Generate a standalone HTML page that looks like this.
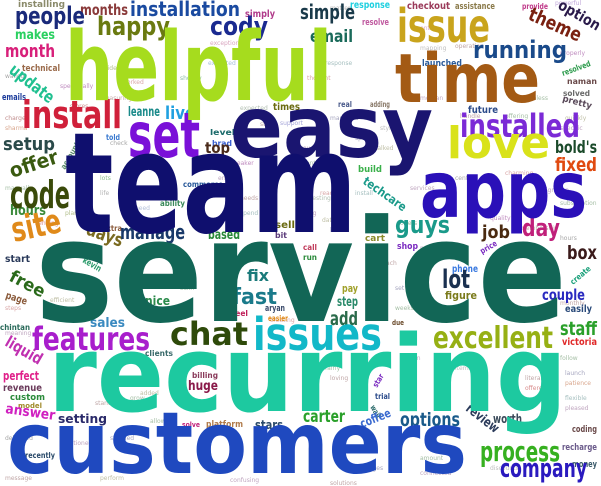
<!DOCTYPE html>
<html><head><meta charset="utf-8"><style>
html,body{margin:0;padding:0;background:#fff;}
svg{display:block;}
text{font-family:"DejaVu Sans","Liberation Sans",sans-serif;font-weight:bold;}
g.tiny text{font-weight:normal;}
</style></head><body>
<svg width="601" height="486" viewBox="0 0 601 486">
<g class="tiny" font-size="6" opacity="0.75">
<text x="5" y="78" fill="#888">walled</text><text x="60" y="88" fill="#a6a">specifically</text><text x="100" y="70" fill="#9a6">guide</text><text x="122" y="84" fill="#c88">worked</text><text x="210" y="45" fill="#c8a">exceptional</text><text x="208" y="65" fill="#8ac">expected</text><text x="180" y="80" fill="#6a8">shopify</text><text x="100" y="100" fill="#a88">measuring</text><text x="70" y="108" fill="#b66">stores</text><text x="240" y="110" fill="#9a9">expected</text><text x="260" y="126" fill="#a88">store</text><text x="280" y="125" fill="#88c">support</text><text x="5" y="120" fill="#a66">charge</text><text x="5" y="130" fill="#c86">sharma</text><text x="110" y="145" fill="#888">check</text><text x="135" y="160" fill="#8a8">saving</text><text x="230" y="165" fill="#a6a">speaker</text><text x="218" y="180" fill="#a8a">enjoy</text><text x="100" y="180" fill="#6a6">lots</text><text x="100" y="195" fill="#999">life</text><text x="135" y="210" fill="#9ac">need</text><text x="240" y="200" fill="#a88">needs</text><text x="240" y="215" fill="#8aa">spend</text><text x="5" y="190" fill="#8a8">manually</text><text x="35" y="225" fill="#c66">sending</text><text x="65" y="215" fill="#9a6">plans</text><text x="330" y="120" fill="#88a">managed</text><text x="300" y="150" fill="#a8a">saved</text><text x="300" y="165" fill="#8a8">month</text><text x="300" y="180" fill="#a86">thing</text><text x="310" y="200" fill="#9a9">testing</text><text x="300" y="215" fill="#a8a">fixing</text><text x="322" y="222" fill="#aa8">date</text><text x="330" y="232" fill="#88a">hear</text><text x="320" y="195" fill="#c88">ready</text><text x="355" y="195" fill="#8aa">install</text><text x="410" y="190" fill="#a8a">services</text><text x="400" y="225" fill="#8a8">offers</text><text x="455" y="180" fill="#888">cent</text><text x="505" y="175" fill="#c88">charming</text><text x="540" y="192" fill="#a8a">migration</text><text x="560" y="205" fill="#8a8">subscription</text><text x="520" y="230" fill="#a88">membership</text><text x="560" y="240" fill="#888">hours</text><text x="490" y="220" fill="#a6a">quality</text><text x="380" y="130" fill="#aaa">style</text><text x="355" y="140" fill="#88a">spent</text><text x="375" y="150" fill="#aa8">talked</text><text x="420" y="100" fill="#a8a">morgan</text><text x="460" y="118" fill="#a88">handle</text><text x="505" y="118" fill="#8a8">offering</text><text x="565" y="120" fill="#aa8">quickly</text><text x="560" y="130" fill="#a8a">specific</text><text x="420" y="50" fill="#aaa">mapping</text><text x="455" y="48" fill="#a88">operation</text><text x="420" y="30" fill="#c8a">entire</text><text x="560" y="55" fill="#a6a">properly</text><text x="555" y="5" fill="#a8c">powerful</text><text x="325" y="65" fill="#8aa">response</text><text x="307" y="80" fill="#c88">thought</text><text x="330" y="10" fill="#999">matter</text><text x="520" y="100" fill="#8a8">seamless</text><text x="380" y="265" fill="#a88">reach</text><text x="395" y="290" fill="#88a">set</text><text x="395" y="310" fill="#8a8">weeks</text><text x="420" y="250" fill="#a8a">paid</text><text x="520" y="280" fill="#aa8">brands</text><text x="560" y="305" fill="#a88">monthly</text><text x="560" y="360" fill="#8a8">follow</text><text x="565" y="375" fill="#88a">launch</text><text x="565" y="385" fill="#c86">patience</text><text x="565" y="400" fill="#8aa">flexible</text><text x="565" y="410" fill="#a8a">pleased</text><text x="455" y="370" fill="#aaa">items</text><text x="525" y="380" fill="#a88">literally</text><text x="525" y="390" fill="#c66">offered</text><text x="330" y="380" fill="#a88">loving</text><text x="325" y="370" fill="#8a8">fairly</text><text x="400" y="360" fill="#a8a">person</text><text x="490" y="470" fill="#aaa">discounts</text><text x="420" y="475" fill="#a8a">connected</text><text x="330" y="485" fill="#a88">solutions</text><text x="420" y="460" fill="#8a8">amount</text><text x="350" y="450" fill="#aa8">wanted</text><text x="365" y="470" fill="#88a">pages</text><text x="5" y="440" fill="#888">delivered</text><text x="60" y="445" fill="#a8a">mentioned</text><text x="110" y="440" fill="#88a">stitched</text><text x="5" y="480" fill="#a88">message</text><text x="100" y="480" fill="#aa8">perform</text><text x="230" y="482" fill="#a8a">confusing</text><text x="140" y="395" fill="#aa8">added</text><text x="95" y="405" fill="#a88">standard</text><text x="130" y="400" fill="#8a8">grow</text><text x="150" y="423" fill="#8a8">allowed</text><text x="5" y="310" fill="#c88">steps</text><text x="50" y="302" fill="#aa8">efficient</text><text x="150" y="258" fill="#a88">reason</text><text x="180" y="290" fill="#8a8">sukh</text><text x="270" y="322" fill="#c88">creating</text><text x="5" y="335" fill="#a8a">meaning</text></g>

<g>
<text x="18" y="7" font-size="9" fill="#8a8a6a" textLength="47" lengthAdjust="spacingAndGlyphs">installing</text>
<text x="80" y="15" font-size="15" fill="#8a3a3a" textLength="48" lengthAdjust="spacingAndGlyphs">months</text>
<text x="15" y="24" font-size="24" fill="#1a2a7a" textLength="70" lengthAdjust="spacingAndGlyphs">people</text>
<text x="130" y="16" font-size="20" fill="#1a4aa0" textLength="110" lengthAdjust="spacingAndGlyphs">installation</text>
<text x="245" y="17" font-size="10" fill="#b03a8a" textLength="30" lengthAdjust="spacingAndGlyphs">simply</text>
<text x="97" y="35" font-size="26" fill="#6a7a10" textLength="73" lengthAdjust="spacingAndGlyphs">happy</text>
<text x="210" y="35" font-size="26" fill="#1a2a90" textLength="58" lengthAdjust="spacingAndGlyphs">cody</text>
<text x="15" y="39" font-size="13" fill="#2ad060" textLength="40" lengthAdjust="spacingAndGlyphs">makes</text>
<text x="5" y="57" font-size="18" fill="#d8207a" textLength="50" lengthAdjust="spacingAndGlyphs">month</text>
<text x="22" y="71" font-size="9" fill="#9a6a4a" textLength="38" lengthAdjust="spacingAndGlyphs">technical</text>
<text transform="translate(8,72) rotate(38)" font-size="17" fill="#20c090" textLength="52" lengthAdjust="spacingAndGlyphs">update</text>
<text x="2" y="100" font-size="9" fill="#1a3a9a" textLength="24" lengthAdjust="spacingAndGlyphs">emails</text>
<text x="128" y="116" font-size="13" fill="#1a8a8a" textLength="32" lengthAdjust="spacingAndGlyphs">leanne</text>
<text x="165" y="119" font-size="18" fill="#20a0e0" textLength="30" lengthAdjust="spacingAndGlyphs">live</text>
<text x="273" y="110" font-size="10" fill="#6a6a10" textLength="27" lengthAdjust="spacingAndGlyphs">times</text>
<text x="210" y="135" font-size="8" fill="#1a6a6a" textLength="25" lengthAdjust="spacingAndGlyphs">level</text>
<text x="212" y="146" font-size="8" fill="#3a60d0" textLength="20" lengthAdjust="spacingAndGlyphs">brad</text>
<text x="106" y="140" font-size="8" fill="#3a7ad0" textLength="14" lengthAdjust="spacingAndGlyphs">told</text>
<text x="205" y="153" font-size="15" fill="#4a2a1a" textLength="25" lengthAdjust="spacingAndGlyphs">top</text>
<text x="3" y="150" font-size="18" fill="#2a4a4a" textLength="52" lengthAdjust="spacingAndGlyphs">setup</text>
<text transform="translate(12,178) rotate(-18)" font-size="20" fill="#3a5a10" textLength="50" lengthAdjust="spacingAndGlyphs">offer</text>
<text transform="translate(65,170) rotate(-60)" font-size="8" fill="#5a8a6a" textLength="30" lengthAdjust="spacingAndGlyphs">account</text>
<text x="183" y="187" font-size="8" fill="#2a5a9a" textLength="40" lengthAdjust="spacingAndGlyphs">commerce</text>
<text x="160" y="206" font-size="8" fill="#3a8a5a" textLength="25" lengthAdjust="spacingAndGlyphs">ability</text>
<text x="10" y="215" font-size="14" fill="#3a8a3a" textLength="36" lengthAdjust="spacingAndGlyphs">hours</text>
<text x="102" y="231" font-size="8" fill="#8a5a3a" textLength="20" lengthAdjust="spacingAndGlyphs">extra</text>
<text transform="translate(85,234) rotate(20)" font-size="18" fill="#7a6a20" textLength="38" lengthAdjust="spacingAndGlyphs">days</text>
<text x="120" y="239" font-size="20" fill="#1a3a6a" textLength="65" lengthAdjust="spacingAndGlyphs">manage</text>
<text x="208" y="239" font-size="13" fill="#2a8a3a" textLength="32" lengthAdjust="spacingAndGlyphs">based</text>
<text x="275" y="238" font-size="8" fill="#5a3a7a" textLength="12" lengthAdjust="spacingAndGlyphs">bit</text>
<text x="275" y="228" font-size="10" fill="#6a6a10" textLength="20" lengthAdjust="spacingAndGlyphs">sell</text>
<text x="350" y="8" font-size="10" fill="#20d0e0" textLength="40" lengthAdjust="spacingAndGlyphs">response</text>
<text x="300" y="19" font-size="20" fill="#1a3a4a" textLength="55" lengthAdjust="spacingAndGlyphs">simple</text>
<text x="407" y="9" font-size="10" fill="#9a3a5a" textLength="43" lengthAdjust="spacingAndGlyphs">checkout</text>
<text x="455" y="9" font-size="9" fill="#8a7a4a" textLength="40" lengthAdjust="spacingAndGlyphs">assistance</text>
<text x="522" y="9" font-size="8" fill="#c03a8a" textLength="26" lengthAdjust="spacingAndGlyphs">provide</text>
<text x="362" y="25" font-size="9" fill="#c05aa0" textLength="27" lengthAdjust="spacingAndGlyphs">resolve</text>
<text x="310" y="42" font-size="17" fill="#1a6a5a" textLength="43" lengthAdjust="spacingAndGlyphs">email</text>
<text transform="translate(527,19) rotate(24)" font-size="19" fill="#7a2010" textLength="56" lengthAdjust="spacingAndGlyphs">theme</text>
<text transform="translate(557,8) rotate(30)" font-size="15" fill="#2a1a4a" textLength="46" lengthAdjust="spacingAndGlyphs">option</text>
<text x="473" y="58" font-size="24" fill="#1a4a8a" textLength="94" lengthAdjust="spacingAndGlyphs">running</text>
<text x="422" y="66" font-size="9" fill="#2a5a9a" textLength="40" lengthAdjust="spacingAndGlyphs">launched</text>
<text transform="translate(563,76) rotate(-20)" font-size="8" fill="#2a9a4a" textLength="30" lengthAdjust="spacingAndGlyphs">resolved</text>
<text x="567" y="84" font-size="8" fill="#6a4a4a" textLength="30" lengthAdjust="spacingAndGlyphs">naman</text>
<text x="563" y="96" font-size="8" fill="#6a6a6a" textLength="27" lengthAdjust="spacingAndGlyphs">solved</text>
<text transform="translate(562,101) rotate(15)" font-size="9" fill="#5a4a5a" textLength="30" lengthAdjust="spacingAndGlyphs">pretty</text>
<text x="338" y="107" font-size="8" fill="#4a5a8a" textLength="14" lengthAdjust="spacingAndGlyphs">real</text>
<text x="370" y="107" font-size="8" fill="#8a7a6a" textLength="20" lengthAdjust="spacingAndGlyphs">adding</text>
<text x="468" y="113" font-size="10" fill="#2a4a8a" textLength="30" lengthAdjust="spacingAndGlyphs">future</text>
<text x="555" y="153" font-size="17" fill="#1a4a2a" textLength="42" lengthAdjust="spacingAndGlyphs">bold's</text>
<text x="555" y="171" font-size="19" fill="#e04a10" textLength="42" lengthAdjust="spacingAndGlyphs">fixed</text>
<text x="358" y="172" font-size="9" fill="#3ab04a" textLength="24" lengthAdjust="spacingAndGlyphs">build</text>
<text transform="translate(362,183) rotate(35)" font-size="12" fill="#1a9a8a" textLength="50" lengthAdjust="spacingAndGlyphs">techcare</text>
<text x="395" y="233" font-size="24" fill="#1a9a8a" textLength="55" lengthAdjust="spacingAndGlyphs">guys</text>
<text x="365" y="241" font-size="9" fill="#8a8a2a" textLength="20" lengthAdjust="spacingAndGlyphs">cart</text>
<text x="482" y="238" font-size="18" fill="#4a2a10" textLength="28" lengthAdjust="spacingAndGlyphs">job</text>
<text x="522" y="236" font-size="24" fill="#c0207a" textLength="38" lengthAdjust="spacingAndGlyphs">day</text>
<text x="5" y="262" font-size="10" fill="#2a3a5a" textLength="25" lengthAdjust="spacingAndGlyphs">start</text>
<text transform="translate(82,262) rotate(30)" font-size="9" fill="#2a9a6a" textLength="20" lengthAdjust="spacingAndGlyphs">kevin</text>
<text transform="translate(8,280) rotate(28)" font-size="17" fill="#2a6a1a" textLength="38" lengthAdjust="spacingAndGlyphs">free</text>
<text transform="translate(5,298) rotate(18)" font-size="10" fill="#8a5a3a" textLength="22" lengthAdjust="spacingAndGlyphs">page</text>
<text x="0" y="330" font-size="8" fill="#2a6a5a" textLength="30" lengthAdjust="spacingAndGlyphs">chintan</text>
<text x="247" y="281" font-size="16" fill="#1a7a7a" textLength="22" lengthAdjust="spacingAndGlyphs">fix</text>
<text x="232" y="304" font-size="22" fill="#1a7a8a" textLength="45" lengthAdjust="spacingAndGlyphs">fast</text>
<text x="145" y="305" font-size="12" fill="#2a8a4a" textLength="25" lengthAdjust="spacingAndGlyphs">nice</text>
<text x="265" y="311" font-size="9" fill="#3a4a6a" textLength="20" lengthAdjust="spacingAndGlyphs">aryan</text>
<text x="232" y="316" font-size="8" fill="#c0205a" textLength="16" lengthAdjust="spacingAndGlyphs">feel</text>
<text x="268" y="321" font-size="8" fill="#e08a1a" textLength="20" lengthAdjust="spacingAndGlyphs">easier</text>
<text x="90" y="327" font-size="13" fill="#3a8ac0" textLength="35" lengthAdjust="spacingAndGlyphs">sales</text>
<text transform="translate(4,345) rotate(30)" font-size="16" fill="#c030b0" textLength="40" lengthAdjust="spacingAndGlyphs">liquid</text>
<text x="3" y="380" font-size="12" fill="#e0208a" textLength="36" lengthAdjust="spacingAndGlyphs">perfect</text>
<text x="3" y="391" font-size="10" fill="#6a3a5a" textLength="39" lengthAdjust="spacingAndGlyphs">revenue</text>
<text x="10" y="400" font-size="9" fill="#2a8a3a" textLength="35" lengthAdjust="spacingAndGlyphs">custom</text>
<text x="18" y="408" font-size="7" fill="#a08a2a" textLength="24" lengthAdjust="spacingAndGlyphs">model</text>
<text transform="translate(5,413) rotate(8)" font-size="14" fill="#d020c0" textLength="50" lengthAdjust="spacingAndGlyphs">answer</text>
<text x="58" y="423" font-size="12" fill="#2a2a6a" textLength="49" lengthAdjust="spacingAndGlyphs">setting</text>
<text x="145" y="356" font-size="8" fill="#3a6a6a" textLength="28" lengthAdjust="spacingAndGlyphs">clients</text>
<text x="192" y="378" font-size="8" fill="#8a3a5a" textLength="26" lengthAdjust="spacingAndGlyphs">billing</text>
<text x="188" y="390" font-size="13" fill="#8a1a4a" textLength="30" lengthAdjust="spacingAndGlyphs">huge</text>
<text x="182" y="427" font-size="7" fill="#c0207a" textLength="18" lengthAdjust="spacingAndGlyphs">solve</text>
<text x="206" y="427" font-size="9" fill="#b07a4a" textLength="37" lengthAdjust="spacingAndGlyphs">platform</text>
<text x="255" y="429" font-size="12" fill="#2a4a6a" textLength="28" lengthAdjust="spacingAndGlyphs">stars</text>
<text x="25" y="458" font-size="8" fill="#2a4a6a" textLength="30" lengthAdjust="spacingAndGlyphs">recently</text>
<text x="303" y="250" font-size="8" fill="#c03a5a" textLength="14" lengthAdjust="spacingAndGlyphs">call</text>
<text x="303" y="260" font-size="8" fill="#2a8a3a" textLength="14" lengthAdjust="spacingAndGlyphs">run</text>
<text x="397" y="249" font-size="9" fill="#7a2ac0" textLength="21" lengthAdjust="spacingAndGlyphs">shop</text>
<text transform="translate(482,254) rotate(-30)" font-size="8" fill="#7a2ac0" textLength="18" lengthAdjust="spacingAndGlyphs">price</text>
<text x="452" y="272" font-size="10" fill="#3a7ae0" textLength="26" lengthAdjust="spacingAndGlyphs">phone</text>
<text x="567" y="259" font-size="19" fill="#3a1a1a" textLength="30" lengthAdjust="spacingAndGlyphs">box</text>
<text transform="translate(573,285) rotate(-40)" font-size="8" fill="#1aa07a" textLength="24" lengthAdjust="spacingAndGlyphs">create</text>
<text x="442" y="288" font-size="26" fill="#1a3050" textLength="28" lengthAdjust="spacingAndGlyphs">lot</text>
<text x="445" y="299" font-size="11" fill="#7a7a1a" textLength="32" lengthAdjust="spacingAndGlyphs">figure</text>
<text x="542" y="300" font-size="15" fill="#2a2ac0" textLength="43" lengthAdjust="spacingAndGlyphs">couple</text>
<text x="565" y="312" font-size="10" fill="#2a4a7a" textLength="27" lengthAdjust="spacingAndGlyphs">easily</text>
<text x="342" y="292" font-size="11" fill="#a0a02a" textLength="16" lengthAdjust="spacingAndGlyphs">pay</text>
<text x="337" y="306" font-size="13" fill="#2a8a6a" textLength="21" lengthAdjust="spacingAndGlyphs">step</text>
<text x="330" y="325" font-size="19" fill="#2a6a4a" textLength="28" lengthAdjust="spacingAndGlyphs">add</text>
<text x="392" y="325" font-size="7" fill="#6a4a2a" textLength="12" lengthAdjust="spacingAndGlyphs">due</text>
<text x="560" y="335" font-size="19" fill="#2aa02a" textLength="37" lengthAdjust="spacingAndGlyphs">staff</text>
<text x="562" y="345" font-size="10" fill="#e02a2a" textLength="35" lengthAdjust="spacingAndGlyphs">victoria</text>
<text transform="translate(377,388) rotate(-60)" font-size="8" fill="#7a2ac0" textLength="14" lengthAdjust="spacingAndGlyphs">star</text>
<text x="375" y="399" font-size="8" fill="#2a4a8a" textLength="15" lengthAdjust="spacingAndGlyphs">trial</text>
<text transform="translate(370,407) rotate(60)" font-size="8" fill="#2a6a6a" textLength="14" lengthAdjust="spacingAndGlyphs">wait</text>
<text x="303" y="422" font-size="17" fill="#2aa02a" textLength="42" lengthAdjust="spacingAndGlyphs">carter</text>
<text transform="translate(362,428) rotate(-22)" font-size="12" fill="#3a6ad0" textLength="32" lengthAdjust="spacingAndGlyphs">coffee</text>
<text x="400" y="426" font-size="19" fill="#1a5a8a" textLength="60" lengthAdjust="spacingAndGlyphs">options</text>
<text transform="translate(465,410) rotate(38)" font-size="13" fill="#2a3a5a" textLength="38" lengthAdjust="spacingAndGlyphs">review</text>
<text x="493" y="423" font-size="12" fill="#3a4a5a" textLength="29" lengthAdjust="spacingAndGlyphs">worth</text>
<text x="572" y="432" font-size="9" fill="#6a4a4a" textLength="25" lengthAdjust="spacingAndGlyphs">coding</text>
<text x="562" y="450" font-size="9" fill="#6a5a8a" textLength="35" lengthAdjust="spacingAndGlyphs">recharge</text>
<text x="572" y="467" font-size="9" fill="#3a5a6a" textLength="25" lengthAdjust="spacingAndGlyphs">money</text>
</g>

<g>
<text x="22" y="128" font-size="38" fill="#d0203a" textLength="100" lengthAdjust="spacingAndGlyphs">install</text>
<text x="10" y="208" font-size="38" fill="#3a4a0a" textLength="60" lengthAdjust="spacingAndGlyphs">code</text>
<text transform="translate(14,242) rotate(-12)" font-size="34" fill="#e08a1a" textLength="50" lengthAdjust="spacingAndGlyphs">site</text>
<text x="128" y="157" font-size="62" fill="#7a10d8" textLength="72" lengthAdjust="spacingAndGlyphs">set</text>
<text x="397" y="42" font-size="46" fill="#c9a41c" textLength="93" lengthAdjust="spacingAndGlyphs">issue</text>
<text x="460" y="137" font-size="32" fill="#7b2ad6" textLength="120" lengthAdjust="spacingAndGlyphs">installed</text>
<text x="447" y="158" font-size="44" fill="#d9e21a" textLength="103" lengthAdjust="spacingAndGlyphs">love</text>
<text x="32" y="350" font-size="32" fill="#a81ecc" textLength="118" lengthAdjust="spacingAndGlyphs">features</text>
<text x="170" y="345" font-size="32" fill="#2e4a0a" textLength="78" lengthAdjust="spacingAndGlyphs">chat</text>
<text x="253" y="350" font-size="45" fill="#12b8c8" textLength="129" lengthAdjust="spacingAndGlyphs">issues</text>
<text x="433" y="348" font-size="30" fill="#96b014" textLength="120" lengthAdjust="spacingAndGlyphs">excellent</text>
<text x="480" y="461" font-size="28" fill="#36b020" textLength="80" lengthAdjust="spacingAndGlyphs">process</text>
<text x="500" y="477" font-size="26" fill="#2a1abf" textLength="87" lengthAdjust="spacingAndGlyphs">company</text>
</g>

<g>
<text x="65" y="100" font-size="95" fill="#a6dc1e" textLength="267" lengthAdjust="spacingAndGlyphs">helpful</text>
<text x="395" y="102" font-size="68" fill="#a35a14" textLength="145" lengthAdjust="spacingAndGlyphs">time</text>
<text x="230" y="157" font-size="86" fill="#1a1570" textLength="203" lengthAdjust="spacingAndGlyphs">easy</text>
<text x="65" y="232" font-size="140" fill="#0f0f6e" textLength="292" lengthAdjust="spacingAndGlyphs">team</text>
<text x="420" y="217" font-size="78" fill="#2a10b8" textLength="167" lengthAdjust="spacingAndGlyphs">apps</text>
<text x="35" y="321" font-size="142" fill="#126656" textLength="532" lengthAdjust="spacingAndGlyphs">service</text>
<text x="48" y="411" font-size="106" fill="#1dc9a0" textLength="519" lengthAdjust="spacingAndGlyphs">recurring</text>
<text x="7" y="473" font-size="86" fill="#1f49bf" textLength="460" lengthAdjust="spacingAndGlyphs">customers</text>
</g>
</svg>
</body></html>
